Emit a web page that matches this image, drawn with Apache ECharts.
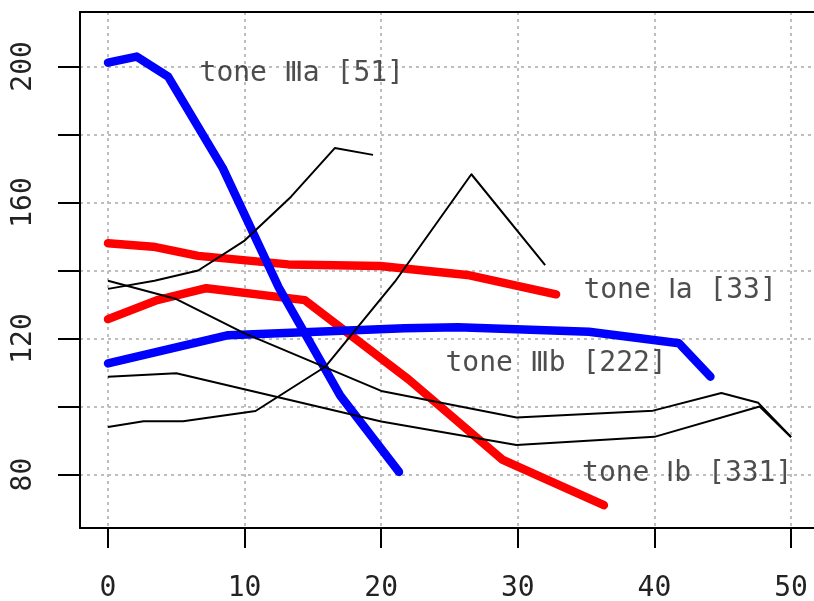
<!DOCTYPE html>
<html>
<head>
<meta charset="utf-8">
<script src="https://cdn.jsdelivr.net/npm/echarts@6/dist/echarts.min.js"></script>
<style>
  html, body { margin: 0; padding: 0; background: #fff; }
  #chart { width: 814px; height: 601px; }
</style>
</head>
<body>
<div id="chart"></div>
<script>
// tick values
const xTicks = [0, 10, 20, 30, 40, 50];
const yTicks = [80, 100, 120, 140, 160, 180, 200];
const yLabels = [80, 120, 160, 200];

// thick coloured curves
const toneIIIaX = [0, 2.1, 4.4, 8.4, 12.5, 17.0, 21.3];
const toneIIIaY = [201.1, 202.9, 197.0, 170.1, 135, 103.2, 80.8];

const toneIIIbX = [0, 8.8, 21.7, 25.6, 35.2, 41.8, 44.1];
const toneIIIbY = [112.7, 121.0, 123, 123.3, 122, 118.6, 108.8];

const toneIaX = [0, 3.3, 6.6, 13.2, 19.9, 26.3, 32.8];
const toneIaY = [148, 147, 144.3, 141.8, 141.3, 138.7, 133];

const toneIbX = [0, 3.6, 7.2, 14.4, 22, 28.9, 36.3];
const toneIbY = [125.7, 131.3, 134.8, 131.3, 108, 84.3, 71];

// thin black curves
const black1X = [0, 3.4, 6.6, 10, 13.4, 16.6, 19.4];
const black1Y = [134.6, 137, 140, 148.8, 161.7, 176, 174];

const black2X = [0, 2.6, 5.5, 10.8, 15.9, 21, 26.6, 32];
const black2Y = [94, 95.7, 95.7, 98.7, 111.7, 136.7, 168.3, 141.6];

const black3X = [0, 5, 10, 20, 29.9, 39.9, 44.9, 47.6, 50];
const black3Y = [137, 131.6, 121.5, 104.6, 96.8, 98.8, 104, 101.1, 91.1];

const black4X = [0, 5, 20, 29.9, 40, 47.7, 50];
const black4Y = [108.8, 109.8, 95.6, 88.7, 91.1, 100, 91];

// text labels
const labelTexts = ['tone \u2162a [51]', 'tone \u2160a [33]', 'tone \u2162b [222]', 'tone \u2160b [331]'];
const labelX = [6.7, 34.8, 24.7, 34.7];
const labelY = [197.9, 134.1, 112.6, 80.2];

const FONT = 'DejaVu Sans Mono';
const X_MIN = -2.05;
const X_MAX = 51.68; // plot box runs past the right edge of the picture

function zip(xs, ys) {
  return xs.map((x, i) => [x, ys[i]]);
}

function thick(data, color) {
  return {
    type: 'line',
    data: data,
    symbol: 'none',
    silent: true,
    lineStyle: { color: color, width: 8.5, cap: 'round', join: 'round' },
    z: 3,
  };
}

function thin(data) {
  return {
    type: 'line',
    data: data,
    symbol: 'none',
    silent: true,
    lineStyle: { color: '#000', width: 2, join: 'round' },
    z: 4,
  };
}

const chart = echarts.init(document.getElementById('chart'));

const option = {
  animation: false,
  grid: {
    left: 80,
    top: 12,
    right: 0,
    bottom: 73,
    outerBoundsMode: 'none',
    containLabel: false,
  },
  xAxis: [
    {
      type: 'value',
      min: X_MIN,
      max: X_MAX,
      axisLine: { show: true, onZero: false, lineStyle: { color: '#000', width: 2 } },
      axisTick: { show: true, length: 20, customValues: xTicks, lineStyle: { color: '#000', width: 2 } },
      axisLabel: { customValues: xTicks, margin: 47, color: '#222', fontFamily: FONT, fontSize: 28 },
      splitLine: { show: true, lineStyle: { color: '#bebebe', width: 2, type: [3, 4] } },
    },
    {
      // top edge of the box
      type: 'value',
      position: 'top',
      min: X_MIN,
      max: X_MAX,
      axisLine: { show: true, onZero: false, lineStyle: { color: '#000', width: 2 } },
      axisTick: { show: false },
      axisLabel: { show: false },
      splitLine: { show: false },
    },
  ],
  yAxis: {
    type: 'value',
    min: 64.3,
    max: 216,
    axisLine: { show: true, onZero: false, lineStyle: { color: '#000', width: 2 } },
    axisTick: { show: true, length: 22, customValues: yTicks, lineStyle: { color: '#000', width: 2 } },
    axisLabel: { customValues: yLabels, rotate: 90, margin: 42, color: '#222', fontFamily: FONT, fontSize: 28 },
    splitLine: { show: true, lineStyle: { color: '#bebebe', width: 2, type: [3, 4] } },
  },
  series: [
    thick(zip(toneIaX, toneIaY), '#ff0000'),
    thick(zip(toneIbX, toneIbY), '#ff0000'),
    thick(zip(toneIIIaX, toneIIIaY), '#0000ff'),
    thick(zip(toneIIIbX, toneIIIbY), '#0000ff'),
    thin(zip(black1X, black1Y)),
    thin(zip(black2X, black2Y)),
    thin(zip(black3X, black3Y)),
    thin(zip(black4X, black4Y)),
    {
      type: 'scatter',
      symbolSize: 0,
      silent: true,
      z: 5,
      data: labelX.map((x, i) => [x, labelY[i], labelTexts[i]]),
      label: {
        show: true,
        position: 'right',
        distance: 0,
        color: '#222',
        fontFamily: FONT,
        fontSize: 28,
        formatter: (p) => p.value[2],
      },
    },
  ],
};

chart.setOption(option);
</script>
</body>
</html>
